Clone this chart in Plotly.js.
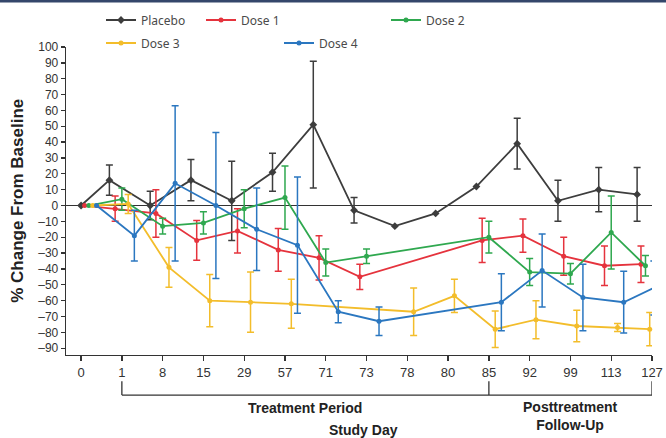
<!DOCTYPE html>
<html>
<head>
<meta charset="utf-8">
<script src="https://cdn.plot.ly/plotly-3.0.1.min.js"></script>
<style>
  html, body { margin: 0; padding: 0; background: #ffffff; }
  #chart { width: 666px; height: 438px; }
</style>
</head>
<body>
<div id="chart"></div>
<script>
// Study days shown on the categorical x axis
const studyDays = ['0', '1', '8', '15', '29', '57', '71', '73', '78', '80', '85', '92', '99', '113', '127'];

// Mean % change from baseline per study day (null = not collected)
const placebo = [0, 16, 0, 16, 3, 21, 51, -3, -13, -5, 12, 39, 3, 10, 7];
const dose1   = [0, -2, -5, -22, -16, -28, -33, -45, null, null, -22, -19, -32, -38, -37];
const dose2   = [0, 4, -13, -11, -2, 5, -36, -32, null, null, -20, -42, -43, -17, -38];
const dose3   = [0, 1, -39, -60, -61, -62, null, null, -67, -57, -78, -72, -76, -77, -78];
const dose4   = [0, -19, 14, 0, -15, -25, -67, -73, null, null, -61, -41, -58, -61, -52];

// Error bar half-lengths (null = no bar)
const placeboErr = [null, 9.5, 9, 13, 25, 12, 40, 8, null, null, null, 16, 13, 14, 17];
const dose1Err   = [null, 8, 15, 12.5, 14, 13.5, 14, 8, null, null, 14, 10.5, 12, 12.5, 11.5];
const dose2Err   = [null, 7, 5, 7, 12, 20, 8.5, 4.5, null, null, 10, 8.5, 6.5, 23, 6.5];
const dose3Err   = [null, 6, 12.5, 16.5, 19, 15.5, null, null, 15, 10.5, 11.5, 12, 10, 2.5, 10.5];
const dose4Err   = [null, 16, 49, 46, 26, 43, 7, 9, null, null, 18, 23, 21, 19.5, 17];

// Horizontal dodge of each group around its tick; the first and last
// groups are squeezed so they stay inside the axis ends.
function dodgedX(offset) {
  const last = studyDays.length - 1;
  return studyDays.map((_, i) => {
    if (i === 0) return (offset + 0.306) * 0.62;
    if (i === last) return i - 0.16 + offset * 0.67;
    return i + offset;
  });
}

function series(name, values, errors, color, symbol, size, offset, legendId) {
  return {
    type: 'scatter',
    mode: 'lines+markers',
    name: name,
    x: dodgedX(offset),
    y: values,
    connectgaps: true,
    cliponaxis: false,
    line: { color: color, width: 1.8 },
    marker: { color: color, symbol: symbol, size: size },
    error_y: {
      type: 'data',
      array: errors.map(v => (v == null ? NaN : v)),
      visible: true,
      color: color,
      thickness: 1.5,
      width: 3.5
    },
    legend: legendId
  };
}

const traces = [
  series('Placebo', placebo, placeboErr, '#3d3d3d', 'diamond', 6, -0.306, 'legend'),
  series('Dose 1', dose1, dose1Err, '#e5333d', 'circle', 5, -0.165, 'legend2'),
  series('Dose 2', dose2, dose2Err, '#2fa84f', 'circle', 5, 0, 'legend3'),
  series('Dose 3', dose3, dose3Err, '#f3bd2b', 'circle', 5, 0.155, 'legend4'),
  series('Dose 4', dose4, dose4Err, '#2b77c0', 'circle', 5, 0.306, 'legend5')
];

// y ticks every 10, negatives written with an en dash
const yTickVals = [];
const yTickText = [];
for (let v = -90; v <= 100; v += 10) {
  yTickVals.push(v);
  yTickText.push(v < 0 ? '\u2013' + Math.abs(v) : String(v));
}

const W = 666, H = 438;
function legendAt(px, py) {
  return {
    x: px / W, y: 1 - py / H, xref: 'container', yref: 'container',
    xanchor: 'left', yanchor: 'middle',
    bgcolor: 'rgba(0,0,0,0)', borderwidth: 0,
    itemwidth: 30,
    font: { family: 'Noto Sans, Lato, sans-serif', size: 12, color: '#4a4a4a' }
  };
}

const axisColor = '#333333';
const labelFont = { family: 'Liberation Sans, Arial, sans-serif', size: 14, color: '#222', weight: 'bold' };
const bracketY = -0.13, bracketTop = -0.085;

const layout = {
  width: W, height: H,
  margin: { l: 66, r: 14, t: 47, b: 83, autoexpand: false },
  paper_bgcolor: '#ffffff',
  plot_bgcolor: '#ffffff',
  showlegend: true,
  legend: legendAt(101, 20),
  legend2: legendAt(201, 20),
  legend3: legendAt(386, 20),
  legend4: legendAt(101, 43),
  legend5: legendAt(279, 43),
  xaxis: {
    range: [-0.37, 14],
    tickvals: studyDays.map((_, i) => i),
    ticktext: studyDays,
    showgrid: false,
    zeroline: false,
    showline: true,
    linecolor: axisColor,
    linewidth: 1.3,
    ticks: 'outside',
    ticklen: 5,
    tickcolor: axisColor,
    tickwidth: 1.3,
    tickfont: { family: 'Liberation Sans, Arial, sans-serif', size: 13, color: '#333' },
    automargin: false,
    fixedrange: true
  },
  yaxis: {
    range: [-94.3, 100],
    tickvals: yTickVals,
    ticktext: yTickText,
    showgrid: false,
    zeroline: true,
    zerolinecolor: axisColor,
    zerolinewidth: 1.3,
    showline: true,
    linecolor: axisColor,
    linewidth: 1.3,
    ticks: 'outside',
    ticklen: 4,
    tickcolor: axisColor,
    tickwidth: 1.3,
    tickfont: { family: 'Liberation Sans, Arial, sans-serif', size: 12, color: '#333' },
    automargin: false,
    fixedrange: true
  },
  shapes: [
    // thin band along the top edge
    { type: 'rect', xref: 'paper', yref: 'paper', x0: -0.2, x1: 1.2, y0: 1.1445, y1: 1.2,
      fillcolor: '#34466b', line: { width: 0 } },
    // study-period bracket under the axis
    { type: 'line', xref: 'x', yref: 'paper', x0: 1, x1: 14, y0: bracketY, y1: bracketY,
      line: { color: axisColor, width: 1.3 } },
    { type: 'line', xref: 'x', yref: 'paper', x0: 1, x1: 1, y0: bracketTop, y1: bracketY,
      line: { color: axisColor, width: 1.3 } },
    { type: 'line', xref: 'x', yref: 'paper', x0: 10, x1: 10, y0: bracketTop, y1: bracketY,
      line: { color: axisColor, width: 1.3 } },
    { type: 'line', xref: 'x', yref: 'paper', x0: 14, x1: 14, y0: bracketTop, y1: bracketY,
      line: { color: axisColor, width: 1.3 } }
  ],
  annotations: [
    // y-axis title
    { text: '% Change From Baseline', xref: 'paper', yref: 'paper', x: -0.084, y: 0.5,
      textangle: -90, showarrow: false, xanchor: 'center', yanchor: 'middle',
      font: Object.assign({}, labelFont, { size: 17 }) },
    { text: 'Treatment Period', xref: 'x', yref: 'paper', x: 5.5, y: -0.172,
      showarrow: false, xanchor: 'center', yanchor: 'middle', font: labelFont },
    { text: 'Posttreatment<br>Follow-Up', xref: 'x', yref: 'paper', x: 12, y: -0.198,
      showarrow: false, xanchor: 'center', yanchor: 'middle', font: labelFont },
    // x-axis title
    { text: 'Study Day', xref: 'paper', yref: 'paper', x: 0.507, y: -0.243,
      showarrow: false, xanchor: 'center', yanchor: 'middle', font: labelFont }
  ]
};

Plotly.newPlot('chart', traces, layout, { displayModeBar: false, staticPlot: true });
</script>
</body>
</html>
